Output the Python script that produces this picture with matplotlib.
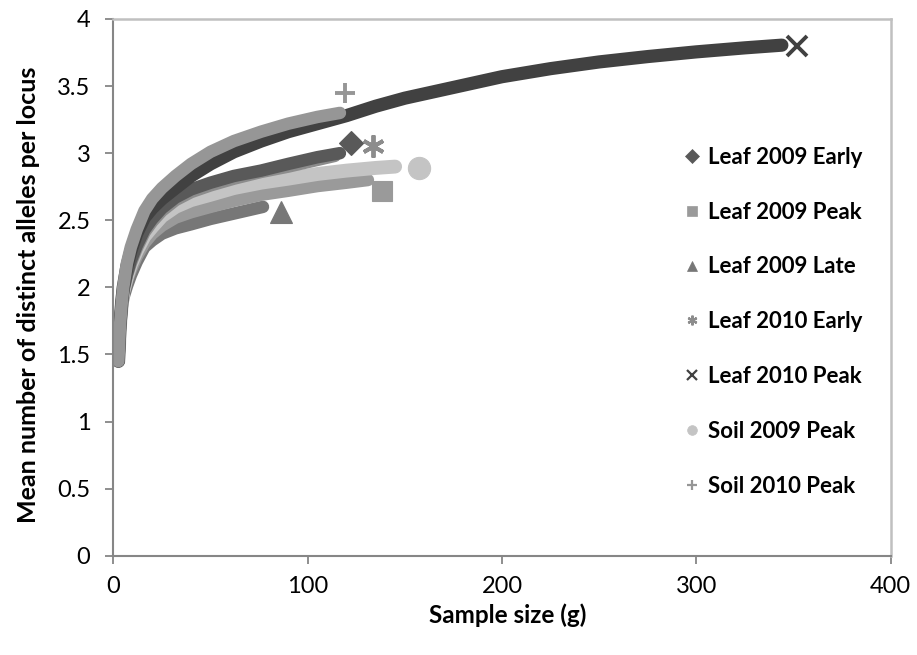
import matplotlib
matplotlib.use("Agg")
import matplotlib.pyplot as plt
from matplotlib.lines import Line2D

plt.rcParams['font.family'] = ['Lato', 'DejaVu Sans']

# rarefaction curves (sample size g, mean alleles)
x_l09_early = [2.6, 3.4, 4.3, 5.1, 7, 9, 12, 16, 20, 25, 32, 40, 50, 62, 76, 90, 105, 116.6]
y_l09_early = [1.45, 1.71, 1.88, 1.98, 2.10, 2.20, 2.31, 2.43, 2.51, 2.59, 2.67, 2.73,
               2.78, 2.83, 2.87, 2.92, 2.97, 3.0]

x_l09_peak = [2.6, 3.4, 4.3, 5.1, 7, 9, 12, 16, 20, 25, 32, 40, 50, 62, 76, 90, 105, 120, 131]
y_l09_peak = [1.45, 1.71, 1.86, 1.95, 2.05, 2.13, 2.23, 2.33, 2.40, 2.46, 2.52, 2.56,
              2.60, 2.645, 2.69, 2.72, 2.755, 2.78, 2.80]

x_l09_late = [2.6, 3.4, 4.3, 5.1, 7, 9, 12, 16, 20, 25, 32, 40, 50, 62, 77]
y_l09_late = [1.45, 1.70, 1.84, 1.92, 2.01, 2.09, 2.19, 2.30, 2.35, 2.40, 2.44, 2.47,
              2.51, 2.55, 2.60]

x_l10_early = [2.6, 3.4, 4.3, 5.1, 7, 9, 12, 16, 20, 25, 32, 40, 50, 62, 76, 90, 105, 114]
y_l10_early = [1.45, 1.71, 1.87, 1.97, 2.09, 2.18, 2.29, 2.41, 2.49, 2.57, 2.65, 2.71,
               2.76, 2.81, 2.86, 2.90, 2.95, 2.98]

x_l10_peak = [2.6, 3.4, 4.3, 5.1, 7, 9, 12, 16, 20, 25, 32, 40, 50, 62, 76, 90, 105, 120,
              135, 150, 175, 200, 225, 250, 275, 300, 325, 344]
y_l10_peak = [1.45, 1.71, 1.88, 2.0, 2.16, 2.27, 2.40, 2.52, 2.59, 2.66, 2.74, 2.83,
              2.92, 3.01, 3.09, 3.16, 3.22, 3.28, 3.35, 3.41, 3.49, 3.57, 3.63, 3.68,
              3.72, 3.755, 3.785, 3.805]

x_s09_peak = [2.6, 3.4, 4.3, 5.1, 7, 9, 12, 16, 20, 25, 32, 40, 50, 62, 76, 90, 105, 120,
              135, 145]
y_s09_peak = [1.45, 1.71, 1.87, 1.97, 2.08, 2.17, 2.27, 2.38, 2.45, 2.53, 2.60, 2.65,
              2.69, 2.74, 2.78, 2.81, 2.845, 2.87, 2.89, 2.90]

x_s10_peak = [2.6, 3.4, 4.3, 5.1, 7, 9, 12, 16, 20, 25, 32, 40, 50, 62, 76, 90, 105, 116.6]
y_s10_peak = [1.45, 1.71, 1.88, 2.0, 2.18, 2.30, 2.43, 2.57, 2.66, 2.74, 2.83, 2.92,
              3.01, 3.09, 3.16, 3.22, 3.27, 3.30]

# observed values (big end markers)
obs_x = [122.3, 138.4, 86.1, 133.8, 351.6, 157.4, 119.2]
obs_y = [3.073, 2.718, 2.563, 3.053, 3.798, 2.887, 3.445]

labels = ['Leaf 2009 Early', 'Leaf 2009 Peak', 'Leaf 2009 Late', 'Leaf 2010 Early',
          'Leaf 2010 Peak', 'Soil 2009 Peak', 'Soil 2010 Peak']
colors = ['#595959', '#9a9a9a', '#777777', '#8c8c8c', '#414141', '#c4c4c4', '#969696']
markers = ['D', 's', '^', (6, 2, 0), 'x', 'o', '+']
msizes = [12, 15, 16, 16, 14, 16, 15]

curves = [(x_l09_early, y_l09_early), (x_l09_peak, y_l09_peak), (x_l09_late, y_l09_late),
          (x_l10_early, y_l10_early), (x_l10_peak, y_l10_peak), (x_s09_peak, y_s09_peak),
          (x_s10_peak, y_s10_peak)]
widths = [9, 9, 9, 9, 9.5, 10, 9]
draw_order = [2, 1, 5, 3, 0, 4, 6]

fig = plt.figure(figsize=(9.17, 6.55), dpi=100)
ax = fig.add_axes([0.1236, 0.1516, 0.8477, 0.8194])

for i in draw_order:
    cx, cy = curves[i]
    ax.plot(cx, cy, color=colors[i], lw=widths[i], solid_capstyle='round',
            solid_joinstyle='round', zorder=2)

for i in range(len(labels)):
    thin = markers[i] in ('x', '+', (6, 2, 0))
    ax.plot(obs_x[i], obs_y[i], linestyle='none', marker=markers[i], ms=msizes[i],
            color=colors[i], mew=2.8 if thin else 0.8,
            mec=colors[i], zorder=3)

handles = []
for i in range(len(labels)):
    thin = markers[i] in ('x', '+', (6, 2, 0))
    handles.append(Line2D([], [], linestyle='none', marker=markers[i], ms=7,
                          color=colors[i], mew=1.6 if thin else 0.5))
ax.legend(handles, labels, loc='center left', bbox_to_anchor=(0.733, 0.436),
          frameon=False, prop={'weight': 'bold', 'size': 16}, handlelength=0.8,
          handletextpad=0.3, labelspacing=1.52, borderpad=0, borderaxespad=0)

ax.set_xlim(0, 400)
ax.set_ylim(0, 4)
ax.set_xticks([0, 100, 200, 300, 400])
ax.set_yticks([0, 0.5, 1, 1.5, 2, 2.5, 3, 3.5, 4])
ax.set_yticklabels(['0', '0.5', '1', '1.5', '2', '2.5', '3', '3.5', '4'])
ax.tick_params(direction='out', length=5.5, width=1.3, color='#868686', labelsize=17)
ax.tick_params(axis='y', pad=11)
ax.tick_params(axis='x', pad=9)

for side in ('left', 'bottom'):
    ax.spines[side].set_color('#868686')
    ax.spines[side].set_linewidth(1.5)
for side in ('top', 'right'):
    ax.spines[side].set_color('#c0c0c0')
    ax.spines[side].set_linewidth(1.8)

ax.set_xlabel('Sample size (g)', fontsize=17.5, fontweight='bold', va='center')
ax.set_ylabel('Mean number of distinct alleles per locus', fontsize=18,
              fontweight='bold', va='center')
ax.xaxis.set_label_coords(0.5077, -0.11)
ax.yaxis.set_label_coords(-0.1097, 0.486)

fig.savefig('out.png', dpi=100)
